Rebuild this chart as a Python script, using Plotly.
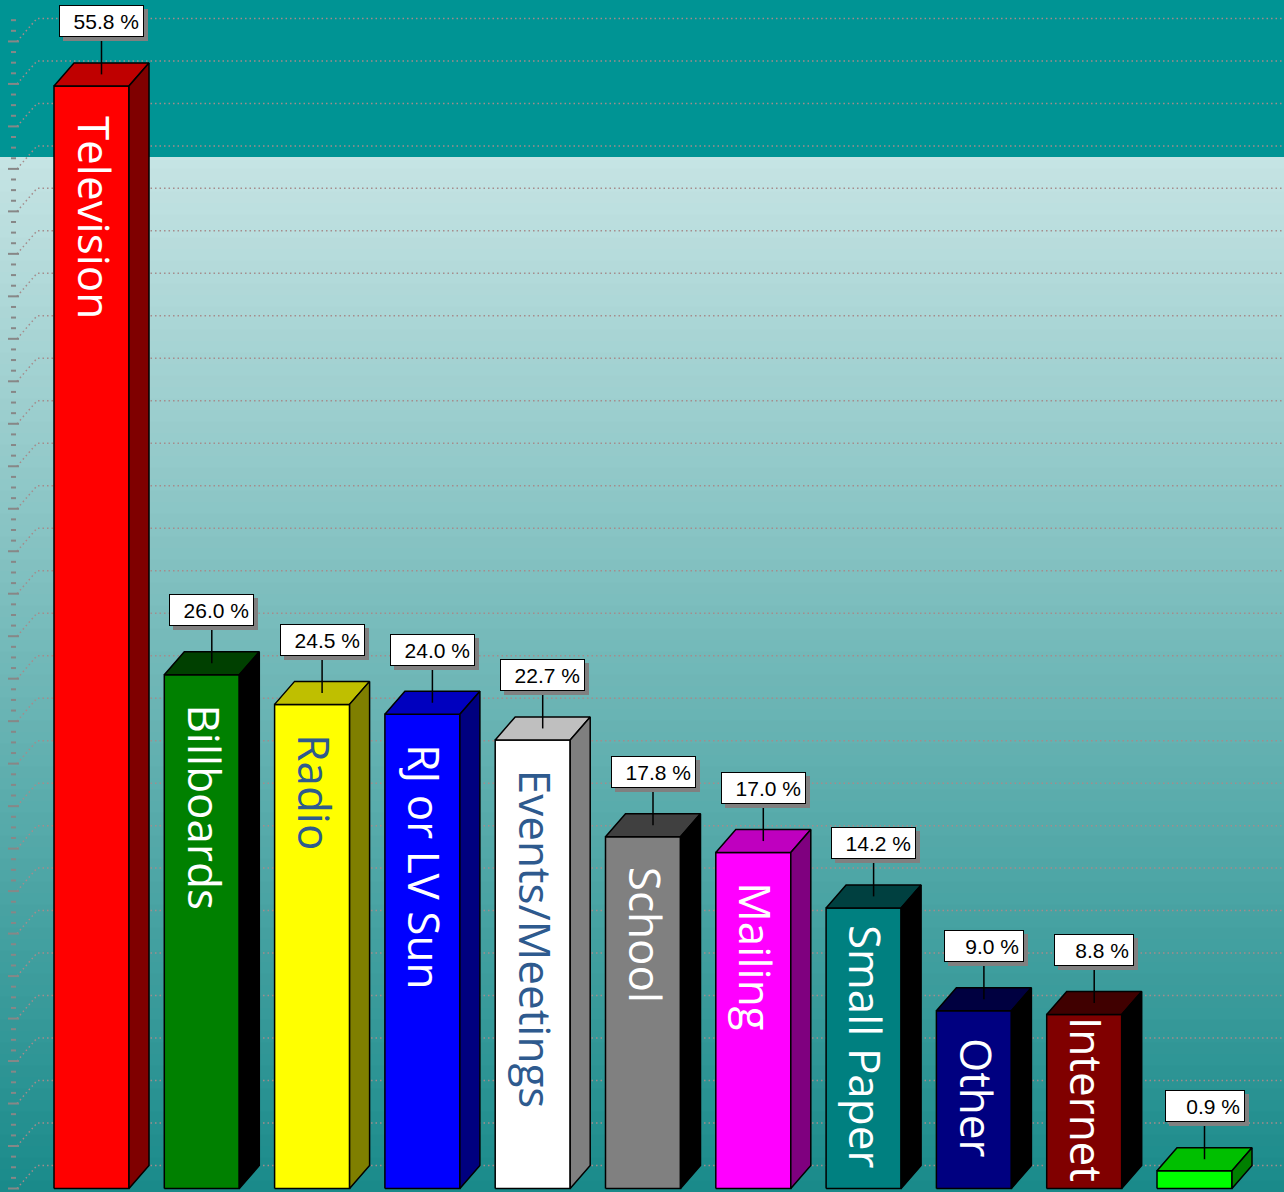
import plotly.graph_objects as go

# ---------------- data ----------------
categories = ["Television", "Billboards", "Radio", "RJ or LV Sun", "Events/Meetings",
              "School", "Mailing", "Small Paper", "Other", "Internet", ""]
values = [55.8, 26.0, 24.5, 24.0, 22.7, 17.8, 17.0, 14.2, 9.0, 8.8, 0.9]
front_colors = [(255, 0, 0), (0, 128, 0), (255, 255, 0), (0, 0, 255), (255, 255, 255),
                (128, 128, 128), (255, 0, 255), (0, 128, 128), (0, 0, 128), (128, 0, 0), (0, 255, 0)]
label_colors = ["#FFFFFF", "#FFFFFF", "#2E5A8E", "#FFFFFF", "#2E5A8E",
                "#FFFFFF", "#FFFFFF", "#FFFFFF", "#FFFFFF", "#FFFFFF", "#FFFFFF"]
value_labels = [f"{v:.1f} %" for v in values]
grid_step = 2.15
n_grid = 27

# ---------------- geometry / style ----------------
W, H = 1284, 1192
PX = 19.76          # pixels per value unit
BASE = 1188.5       # pixel row of value 0 (front)


def v_of_px(p):
    return (BASE - p) / PX


DX = 20.0           # depth offset in x (axis units = pixels)
DY = 23.0 / PX      # depth offset in value units
BAR_W = 75.0
STEP = 110.3
X0 = 54.0
LABEL_FONT = 44

# approximate Open Sans advance widths (em) used to fit labels in bars
OS_W = {" ": .26, "a": .556, "b": .613, "c": .478, "d": .613, "e": .561, "g": .548,
        "h": .614, "i": .253, "l": .253, "m": .93, "n": .614, "o": .604, "p": .613,
        "r": .408, "s": .477, "t": .353, "u": .614, "v": .5, "B": .633, "E": .56,
        "I": .303, "J": .266, "L": .528, "M": .903, "O": .78, "P": .59, "R": .613,
        "S": .55, "T": .559, "V": .601, "/": .371}


def text_len_px(s, size):
    return sum(OS_W.get(ch, .55) for ch in s) * size


def rgb(c):
    return "rgb(%d,%d,%d)" % c


def shade(c, d):
    return tuple(max(0, ch - d) for ch in c)


fig = go.Figure()

# background gradient (plot band), top band is paper colour
shapes = []
top_px, bot_px = 157, H
c_top = (198, 228, 228)
c_bot = (25, 138, 138)
n_strips = 90
for s in range(n_strips):
    p0 = top_px + (bot_px - top_px) * s / n_strips
    p1 = top_px + (bot_px - top_px) * (s + 1) / n_strips + 1
    t = (s + 0.5) / n_strips
    col = tuple(int(round(a + (b - a) * t)) for a, b in zip(c_top, c_bot))
    shapes.append(dict(type="rect", xref="paper", yref="paper",
                       x0=0, x1=1, y0=1 - min(p1, H) / H, y1=1 - p0 / H,
                       fillcolor=rgb(col), line=dict(width=0), layer="below"))

# gridlines: left wall diagonal + back wall horizontal
gx, gy = [], []
for k in range(n_grid + 1):
    t = k * grid_step
    gx += [17, 37, W, None]
    gy += [t, t + DY, t + DY, None]
fig.add_trace(go.Scatter(x=gx, y=gy, mode="lines", hoverinfo="skip", showlegend=False,
                         line=dict(color="rgb(165,140,140)", width=1.5, dash="1.5px,3px")))

# axis ticks at left
tx, ty = [], []
for j in range(n_grid * 4 + 3):
    t = j * grid_step / 4
    if j % 4 == 0:
        tx += [8, 19, None]
    else:
        tx += [11, 16, None]
    ty += [t, t, None]
fig.add_trace(go.Scatter(x=tx, y=ty, mode="lines", hoverinfo="skip", showlegend=False,
                         line=dict(color="rgb(135,135,135)", width=2)))

# 3D bars
annotations = []
for i, (cat, v, fc) in enumerate(zip(categories, values, front_colors)):
    xl = X0 + STEP * i
    xr = xl + BAR_W
    top_c = shade(fc, 64)
    side_c = shade(fc, 128)
    polys = [
        ([xl, xr, xr, xl, xl], [0, 0, v, v, 0], fc),
        ([xl, xr, xr + DX, xl + DX, xl], [v, v, v + DY, v + DY, v], top_c),
        ([xr, xr + DX, xr + DX, xr, xr], [0, DY, v + DY, v, 0], side_c),
    ]
    for px_, py_, c in polys:
        fig.add_trace(go.Scatter(x=px_, y=py_, mode="lines", fill="toself",
                                 fillcolor=rgb(c), hoverinfo="skip", showlegend=False,
                                 line=dict(color="black", width=1.5)))
    # leader line and value box
    xc = (xl + xr) / 2 + DX / 2
    yc = v + DY / 2
    ybox = yc + 37 / PX
    fig.add_trace(go.Scatter(x=[xc, xc], y=[yc, ybox], mode="lines", hoverinfo="skip",
                             showlegend=False, line=dict(color="black", width=1.5)))
    bw = 75 if len(value_labels[i]) >= 6 else 70
    common = dict(x=xc, y=ybox, xref="x", yref="y", showarrow=False,
                  xanchor="center", yanchor="bottom", width=bw, height=22,
                  borderpad=4, borderwidth=1, align="right")
    annotations.append(dict(text=value_labels[i], xshift=4, yshift=-4,
                            bgcolor="rgb(128,128,128)", bordercolor="rgb(128,128,128)",
                            font=dict(family="Liberation Sans, Arial", size=21,
                                      color="rgba(0,0,0,0)"), **common))
    annotations.append(dict(text=value_labels[i], bgcolor="white", bordercolor="black",
                            font=dict(family="Liberation Sans, Arial", size=21,
                                      color="black"), **common))
    # category label inside the front face
    if cat:
        face_h = v * PX
        avail = face_h - text_len_px(cat, LABEL_FONT) - 8
        gap = max(0.0, min(28.0, avail / 2))
        annotations.append(dict(text=cat, x=(xl + xr) / 2, y=v - gap / PX, xshift=3,
                                xref="x", yref="y", showarrow=False, textangle=90,
                                xanchor="center", yanchor="top",
                                font=dict(family="Open Sans", size=LABEL_FONT,
                                          color=label_colors[i])))

fig.update_layout(
    width=W, height=H,
    margin=dict(l=0, r=0, t=0, b=0),
    paper_bgcolor="rgb(0,148,148)",
    plot_bgcolor="rgba(0,0,0,0)",
    shapes=shapes,
    annotations=annotations,
    showlegend=False,
    xaxis=dict(range=[0, W], visible=False, fixedrange=True),
    yaxis=dict(range=[v_of_px(H), v_of_px(0)], visible=False, fixedrange=True),
)

fig.write_html("out.html", config={"displayModeBar": False},
               post_script="document.body.style.margin='0';document.body.style.overflow='hidden';")
